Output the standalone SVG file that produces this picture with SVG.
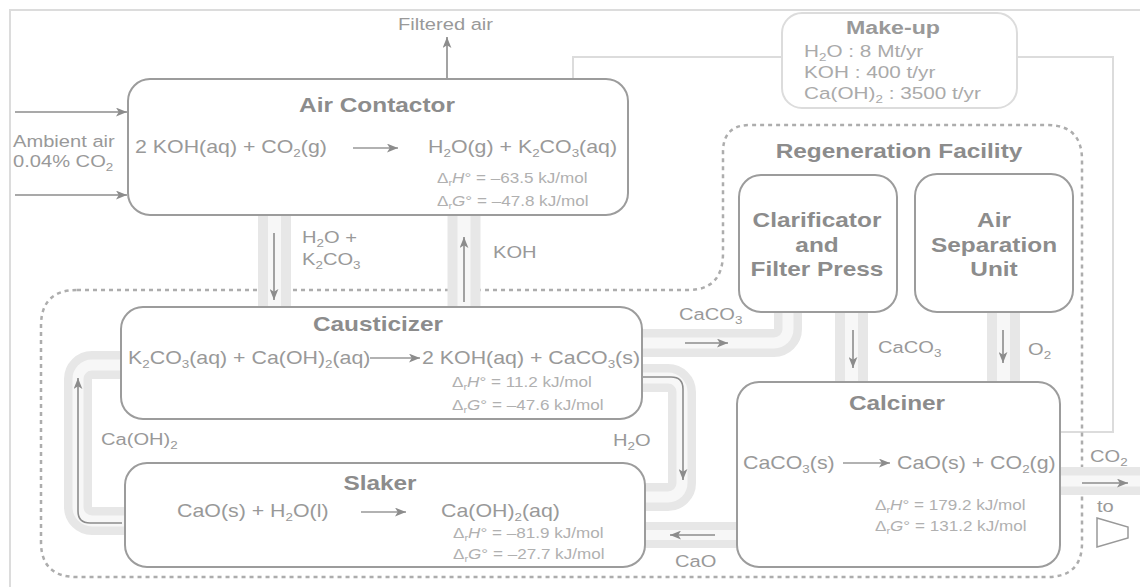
<svg xmlns="http://www.w3.org/2000/svg" width="1140" height="587" viewBox="0 0 1140 587">
<defs>
<style>
text{font-family:"Liberation Sans",Arial,Helvetica,sans-serif}
.ti{font-size:20px;font-weight:bold;fill:#8c8c8c}
.rx{font-size:17.5px;fill:#999}
.dl{font-size:14px;fill:#b0b0b0}
.lb{font-size:16.5px;fill:#999}
.mk{font-size:17px;fill:#aaa}
.s{font-size:11px}
.ss{font-size:9px}
.box{fill:#fff;stroke:#9c9c9c;stroke-width:2}
.mbox{fill:#fff;stroke:#dcdcdc;stroke-width:2}
.frame{fill:none;stroke:#dcdcdc;stroke-width:2}
.dot{fill:none;stroke:#adadad;stroke-width:2.5;stroke-dasharray:4 4}
.pb{fill:none;stroke:#e7e7e7}
.ph{fill:none;stroke:#f7f7f7}
.ar{fill:none;stroke:#8c8c8c;stroke-width:1.6}
.ra{fill:none;stroke:#999;stroke-width:1.4}
</style>
<marker id="ah" viewBox="0 0 10 8" refX="10" refY="4" markerWidth="11" markerHeight="9" markerUnits="userSpaceOnUse" orient="auto">
<path d="M0,0 L10,4 L0,8 L2.5,4 z" fill="#8c8c8c"/>
</marker>
</defs>
<rect width="1140" height="587" fill="#fff"/>

<g id="frame">
<path class="frame" d="M10 587 V10 H1140"/>
<path class="frame" stroke-width="1.5" d="M573 79 V57 H782 M1017 57 H1113 V432 H1060"/>
</g>

<g id="regeneration-facility">
<path class="dot" d="M77 290 H688 Q723 290 723 253 V152 Q723 125 750 125 H1047 Q1082 125 1082 160 V543 Q1082 577 1047 577 H77 Q41 577 41 542 V326 Q41 290 77 290 Z"/>
<text class="ti" text-anchor="middle" transform="translate(899 158) scale(1.22 1)">Regeneration Facility</text>
</g>

<g id="connectors">
<path class="pb" stroke-width="33" d="M274.5 215 V307"/>
<path class="ph" stroke-width="13" d="M274.5 215 V307"/>
<path class="pb" stroke-width="33" d="M464 215 V307"/>
<path class="ph" stroke-width="13" d="M464 215 V307"/>
<path class="pb" stroke-width="28" d="M642 343 H774 A14 14 0 0 0 788 329 V312"/>
<path class="ph" stroke-width="11" d="M642 343 H774 A14 14 0 0 0 788 329 V312"/>
<path class="pb" stroke-width="28" d="M642 378 H668 A14 14 0 0 1 682 392 V483 A14 14 0 0 1 668 497 H644"/>
<path class="ph" stroke-width="11" d="M642 378 H668 A14 14 0 0 1 682 392 V483 A14 14 0 0 1 668 497 H644"/>
<path class="pb" stroke-width="28" d="M121 365 H92 A14 14 0 0 0 78 379 V507 A14 14 0 0 0 92 521 H125"/>
<path class="ph" stroke-width="11" d="M121 365 H92 A14 14 0 0 0 78 379 V507 A14 14 0 0 0 92 521 H125"/>
<path class="pb" stroke-width="33" d="M851.5 312 V382"/>
<path class="ph" stroke-width="13" d="M851.5 312 V382"/>
<path class="pb" stroke-width="33" d="M1003.5 312 V382"/>
<path class="ph" stroke-width="13" d="M1003.5 312 V382"/>
<path class="pb" stroke-width="26" d="M645 535 H737"/>
<path class="ph" stroke-width="10" d="M645 535 H737"/>
<path class="pb" stroke-width="28" d="M1060 481 H1140"/>
<path class="ph" stroke-width="11" d="M1060 481 H1140"/>

<path class="ar" marker-end="url(#ah)" d="M15 112 H127"/>
<path class="ar" marker-end="url(#ah)" d="M15 195 H127"/>
<path class="ar" marker-end="url(#ah)" d="M447 79 V37"/>
<path class="ar" marker-end="url(#ah)" d="M274 233 V300"/>
<path class="ar" marker-end="url(#ah)" d="M464 302 V237"/>
<path class="ar" marker-end="url(#ah)" d="M685 343 H728"/>
<path class="ar" marker-end="url(#ah)" d="M643 377 H671 Q683 377 683 389 V480"/>
<path class="ar" marker-end="url(#ah)" d="M122 523 H90 Q78 523 78 511 V378"/>
<path class="ar" marker-end="url(#ah)" d="M853 330 V368"/>
<path class="ar" marker-end="url(#ah)" d="M1003 330 V363"/>
<path class="ar" marker-end="url(#ah)" d="M715 535 H670"/>
<path class="ar" marker-end="url(#ah)" d="M1082 483 H1128"/>
<polygon points="1097,518 1128,527 1128,538 1097,547" fill="#fff" stroke="#999" stroke-width="1.5"/>

<text class="lb" transform="translate(398 30) scale(1.22 1)">Filtered air</text>
<text class="lb" transform="translate(13 147) scale(1.22 1)">Ambient air</text>
<text class="lb" transform="translate(13 167) scale(1.22 1)">0.04% CO<tspan class="s" dy="4">2</tspan></text>
<text class="lb" transform="translate(302 243) scale(1.22 1)">H<tspan class="s" dy="4">2</tspan><tspan dy="-4">O +</tspan></text>
<text class="lb" transform="translate(302 265) scale(1.22 1)">K<tspan class="s" dy="4">2</tspan><tspan dy="-4">CO</tspan><tspan class="s" dy="4">3</tspan></text>
<text class="lb" transform="translate(493 258) scale(1.22 1)">KOH</text>
<text class="lb" transform="translate(679 320) scale(1.22 1)">CaCO<tspan class="s" dy="4">3</tspan></text>
<text class="lb" transform="translate(878 353) scale(1.22 1)">CaCO<tspan class="s" dy="4">3</tspan></text>
<text class="lb" transform="translate(1028 355) scale(1.22 1)">O<tspan class="s" dy="4">2</tspan></text>
<text class="lb" transform="translate(101 445) scale(1.22 1)">Ca(OH)<tspan class="s" dy="4">2</tspan></text>
<text class="lb" transform="translate(613 446) scale(1.22 1)">H<tspan class="s" dy="4">2</tspan><tspan dy="-4">O</tspan></text>
<text class="lb" transform="translate(675 567) scale(1.22 1)">CaO</text>
<text class="lb" transform="translate(1090 462) scale(1.22 1)">CO<tspan class="s" dy="4">2</tspan></text>
<text class="lb" transform="translate(1097 512) scale(1.22 1)">to</text>
</g>

<g id="make-up">
<rect class="mbox" x="782" y="13" width="235" height="95" rx="20"/>
<text class="ti" text-anchor="middle" transform="translate(893 34) scale(1.22 1)" style="fill:#999;font-size:19px">Make-up</text>
<text class="mk" transform="translate(804 57) scale(1.22 1)">H<tspan class="s" dy="4">2</tspan><tspan dy="-4">O : 8 Mt/yr</tspan></text>
<text class="mk" transform="translate(804 78) scale(1.22 1)">KOH : 400 t/yr</text>
<text class="mk" transform="translate(804 99) scale(1.22 1)">Ca(OH)<tspan class="s" dy="4">2</tspan><tspan dy="-4"> : 3500 t/yr</tspan></text>
</g>

<g id="air-contactor">
<rect class="box" x="128" y="79" width="500" height="136" rx="22"/>
<text class="ti" text-anchor="middle" transform="translate(377 112) scale(1.22 1)">Air Contactor</text>
<text class="rx" transform="translate(135 153) scale(1.22 1)">2 KOH(aq) + CO<tspan class="s" dy="4">2</tspan><tspan dy="-4">(g)</tspan></text>
<path class="ra" marker-end="url(#ah)" d="M353 148 H398"/>
<text class="rx" transform="translate(428 153) scale(1.22 1)">H<tspan class="s" dy="4">2</tspan><tspan dy="-4">O(g) + K</tspan><tspan class="s" dy="4">2</tspan><tspan dy="-4">CO</tspan><tspan class="s" dy="4">3</tspan><tspan dy="-4">(aq)</tspan></text>
<text class="dl" transform="translate(437 183) scale(1.22 1)">Δ<tspan class="ss" dy="3">r</tspan><tspan dy="-3" font-style="italic">H</tspan>° = –63.5 kJ/mol</text>
<text class="dl" transform="translate(437 206) scale(1.22 1)">Δ<tspan class="ss" dy="3">r</tspan><tspan dy="-3" font-style="italic">G</tspan>° = –47.8 kJ/mol</text>
</g>

<g id="causticizer">
<rect class="box" x="121" y="307" width="521" height="112" rx="22"/>
<text class="ti" text-anchor="middle" transform="translate(378 331) scale(1.22 1)">Causticizer</text>
<text class="rx" transform="translate(128 364) scale(1.22 1)">K<tspan class="s" dy="4">2</tspan><tspan dy="-4">CO</tspan><tspan class="s" dy="4">3</tspan><tspan dy="-4">(aq) + Ca(OH)</tspan><tspan class="s" dy="4">2</tspan><tspan dy="-4">(aq)</tspan></text>
<path class="ra" marker-end="url(#ah)" d="M370 358 H420"/>
<text class="rx" transform="translate(422 364) scale(1.22 1)">2 KOH(aq) + CaCO<tspan class="s" dy="4">3</tspan><tspan dy="-4">(s)</tspan></text>
<text class="dl" transform="translate(452 387) scale(1.22 1)">Δ<tspan class="ss" dy="3">r</tspan><tspan dy="-3" font-style="italic">H</tspan>° = 11.2 kJ/mol</text>
<text class="dl" transform="translate(452 410) scale(1.22 1)">Δ<tspan class="ss" dy="3">r</tspan><tspan dy="-3" font-style="italic">G</tspan>° = –47.6 kJ/mol</text>
</g>

<g id="slaker">
<rect class="box" x="125" y="463" width="520" height="104" rx="22"/>
<text class="ti" text-anchor="middle" transform="translate(380 490) scale(1.22 1)">Slaker</text>
<text class="rx" transform="translate(177 517) scale(1.22 1)">CaO(s) + H<tspan class="s" dy="4">2</tspan><tspan dy="-4">O(l)</tspan></text>
<path class="ra" marker-end="url(#ah)" d="M361 512 H406"/>
<text class="rx" transform="translate(441 517) scale(1.22 1)">Ca(OH)<tspan class="s" dy="4">2</tspan><tspan dy="-4">(aq)</tspan></text>
<text class="dl" transform="translate(453 538) scale(1.22 1)">Δ<tspan class="ss" dy="3">r</tspan><tspan dy="-3" font-style="italic">H</tspan>° = –81.9 kJ/mol</text>
<text class="dl" transform="translate(453 559) scale(1.22 1)">Δ<tspan class="ss" dy="3">r</tspan><tspan dy="-3" font-style="italic">G</tspan>° = –27.7 kJ/mol</text>
</g>

<g id="clarificator">
<rect class="box" x="739" y="175" width="158" height="137" rx="22"/>
<text class="ti" text-anchor="middle" transform="translate(817 227) scale(1.22 1)">Clarificator</text>
<text class="ti" text-anchor="middle" transform="translate(817 252) scale(1.22 1)">and</text>
<text class="ti" text-anchor="middle" transform="translate(817 276) scale(1.22 1)">Filter Press</text>
</g>

<g id="air-separation-unit">
<rect class="box" x="915" y="174" width="158" height="138" rx="22"/>
<text class="ti" text-anchor="middle" transform="translate(994 227) scale(1.22 1)">Air</text>
<text class="ti" text-anchor="middle" transform="translate(994 252) scale(1.22 1)">Separation</text>
<text class="ti" text-anchor="middle" transform="translate(994 276) scale(1.22 1)">Unit</text>
</g>

<g id="calciner">
<rect class="box" x="737" y="382" width="323" height="185" rx="22"/>
<text class="ti" text-anchor="middle" transform="translate(897 410) scale(1.22 1)">Calciner</text>
<text class="rx" transform="translate(743 469) scale(1.22 1)">CaCO<tspan class="s" dy="4">3</tspan><tspan dy="-4">(s)</tspan></text>
<path class="ra" marker-end="url(#ah)" d="M843 463 H890"/>
<text class="rx" transform="translate(897 469) scale(1.22 1)">CaO(s) + CO<tspan class="s" dy="4">2</tspan><tspan dy="-4">(g)</tspan></text>
<text class="dl" transform="translate(875 510) scale(1.22 1)">Δ<tspan class="ss" dy="3">r</tspan><tspan dy="-3" font-style="italic">H</tspan>° = 179.2 kJ/mol</text>
<text class="dl" transform="translate(875 531) scale(1.22 1)">Δ<tspan class="ss" dy="3">r</tspan><tspan dy="-3" font-style="italic">G</tspan>° = 131.2 kJ/mol</text>
</g>
</svg>
